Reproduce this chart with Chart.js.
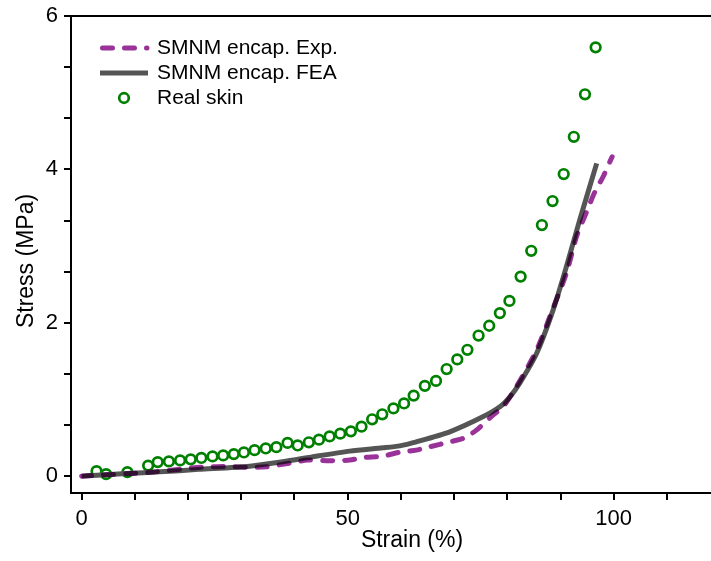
<!DOCTYPE html>
<html>
<head>
<meta charset="utf-8">
<script src="https://cdn.jsdelivr.net/npm/chart.js@4.4.1/dist/chart.umd.min.js"></script>
<style>
  html, body { margin: 0; padding: 0; background: #fff; overflow: hidden; }
  #wrap { width: 711px; height: 561px; overflow: hidden; }
  #chart { display: block; }
</style>
</head>
<body>
<!-- canvas is a few px wider than the window: the original frame runs off the right edge -->
<div id="wrap"><canvas id="chart" width="717" height="561"></canvas></div>
<script>
// data
const strainExp = [0, 12.8, 22.5, 28.4, 31.6, 34.7, 39.1, 42.5, 47.2, 50.4, 52.8, 56.6, 59.8, 62.9, 65.4, 69.2, 71.7, 74.2, 77.3, 79.2, 81.7, 85.5, 88.6, 91.1, 93.0, 94.9, 96.4, 98.0, 99.7];
const stressExp = [0, 0.05, 0.117, 0.124, 0.113, 0.121, 0.17, 0.209, 0.2, 0.209, 0.241, 0.26, 0.313, 0.339, 0.382, 0.447, 0.492, 0.6, 0.796, 0.904, 1.165, 1.643, 2.19, 2.644, 3.121, 3.447, 3.698, 3.904, 4.165];

const strainFea = [0, 2.1, 8.4, 14.7, 22, 31.6, 37.8, 44.1, 50.4, 56.6, 59.8, 62.9, 69.2, 75.4, 78.6, 80.5, 82.3, 85.5, 88.6, 91.1, 93.6, 96.8];
const stressFea = [0, 0.009, 0.035, 0.056, 0.088, 0.13, 0.187, 0.26, 0.326, 0.369, 0.395, 0.447, 0.578, 0.773, 0.904, 1.034, 1.209, 1.6, 2.165, 2.73, 3.339, 4.078];

const strainSkin = [2.8, 4.6, 8.6, 12.5, 14.3, 16.4, 18.5, 20.5, 22.5, 24.6, 26.6, 28.6, 30.5, 32.5, 34.6, 36.6, 38.7, 40.6, 42.7, 44.6, 46.6, 48.6, 50.6, 52.6, 54.6, 56.5, 58.6, 60.6, 62.4, 64.5, 66.6, 68.6, 70.6, 72.5, 74.6, 76.6, 78.6, 80.4, 82.5, 84.5, 86.5, 88.5, 90.6, 92.5, 94.6, 96.6];
const stressSkin = [0.065, 0.026, 0.052, 0.137, 0.183, 0.192, 0.205, 0.219, 0.237, 0.257, 0.27, 0.287, 0.309, 0.339, 0.361, 0.378, 0.433, 0.400, 0.441, 0.476, 0.518, 0.554, 0.584, 0.645, 0.741, 0.806, 0.883, 0.948, 1.05, 1.177, 1.242, 1.396, 1.522, 1.647, 1.833, 1.961, 2.126, 2.285, 2.602, 2.938, 3.274, 3.587, 3.939, 4.425, 4.979, 5.591];

const seriesNames = ['SMNM encap. Exp.', 'SMNM encap. FEA', 'Real skin'];

const xTicks = [0, 10, 20, 30, 40, 50, 60, 70, 80, 90, 100, 110];
const xLabels = [0, 50, 100];
const yTicks = [0, 0.667, 1.333, 2, 2.667, 3.333, 4, 4.667, 5.333, 6];
const yLabels = [0, 2, 4, 6];

const FONT = '"Liberation Sans", Arial, sans-serif';

function toPoints(xs, ys) {
  return xs.map((x, i) => ({ x: x, y: ys[i] }));
}

// multiply blend for the dashed curve so overlaps go dark like the original
const blendPlugin = {
  id: 'blendExp',
  beforeDatasetDraw(chart, args) {
    if (args.index === 0) {
      chart.ctx.save();
      chart.ctx.globalCompositeOperation = 'multiply';
    }
  },
  afterDatasetDraw(chart, args) {
    if (args.index === 0) chart.ctx.restore();
  }
};

// top frame line, axis titles (off-centre in the original) and legend inside the plot
const framePlugin = {
  id: 'frameLegend',
  afterDraw(chart) {
    const { ctx, chartArea } = chart;
    ctx.save();
    ctx.strokeStyle = '#000';
    ctx.lineWidth = 2;
    ctx.beginPath();
    ctx.moveTo(chartArea.left - 1, chartArea.top);
    ctx.lineTo(chart.width, chartArea.top);
    ctx.stroke();

    ctx.fillStyle = '#000';
    ctx.font = '23px ' + FONT;
    ctx.textAlign = 'center';
    ctx.textBaseline = 'middle';
    ctx.fillText('Strain (%)', 412, 541);

    ctx.save();
    ctx.translate(27, 261);
    ctx.rotate(-Math.PI / 2);
    ctx.fillText('Stress (MPa)', 0, 0);
    ctx.restore();

    ctx.textAlign = 'left';
    ctx.font = '21px ' + FONT;
    const rows = [48, 73, 98];
    chart.data.datasets.forEach((ds, i) => {
      const y = rows[i];
      ctx.save();
      if (ds.showLine) {
        ctx.strokeStyle = ds.borderColor;
        ctx.lineWidth = ds.borderWidth;
        ctx.lineCap = ds.borderCapStyle || 'butt';
        ctx.setLineDash(ds.borderDash || []);
        ctx.beginPath();
        ctx.moveTo(ds.borderDash ? 102.5 : 100, y);
        ctx.lineTo(ds.borderDash ? 147 : 148, y);
        ctx.stroke();
      } else {
        ctx.strokeStyle = ds.borderColor;
        ctx.lineWidth = ds.borderWidth;
        ctx.beginPath();
        ctx.arc(124, y, ds.pointRadius, 0, Math.PI * 2);
        ctx.stroke();
      }
      ctx.restore();
      ctx.fillText(ds.label, 157, y);
    });
    ctx.restore();
  }
};

const ctx = document.getElementById('chart').getContext('2d');
new Chart(ctx, {
  type: 'scatter',
  data: {
    datasets: [
      {
        label: seriesNames[0],
        data: toPoints(strainExp, stressExp),
        showLine: true,
        borderColor: '#993399',
        borderWidth: 5,
        borderDash: [10, 12],
        borderCapStyle: 'round',
        pointRadius: 0,
        tension: 0.25
      },
      {
        label: seriesNames[1],
        data: toPoints(strainFea, stressFea),
        showLine: true,
        borderColor: '#555555',
        borderWidth: 5,
        pointRadius: 0,
        tension: 0.25
      },
      {
        label: seriesNames[2],
        data: toPoints(strainSkin, stressSkin),
        showLine: false,
        borderColor: '#008000',
        backgroundColor: 'rgba(0,0,0,0)',
        borderWidth: 2.7,
        pointRadius: 4.8,
        pointHoverRadius: 4.8
      }
    ]
  },
  options: {
    responsive: false,
    animation: false,
    layout: { padding: { top: 16, right: 0, bottom: 0, left: 0 } },
    plugins: {
      legend: { display: false },
      tooltip: { enabled: false }
    },
    scales: {
      x: {
        type: 'linear',
        min: -2,
        max: 118,
        afterFit: (scale) => { scale.height = 68; scale.paddingRight = 0; },
        afterBuildTicks: (scale) => { scale.ticks = xTicks.map(v => ({ value: v })); },
        border: { display: true, color: '#000', width: 2 },
        grid: { drawOnChartArea: false, drawTicks: true, tickLength: 7, color: '#000', lineWidth: 2 },
        ticks: {
          autoSkip: false,
          maxRotation: 0,
          padding: 6,
          color: '#000',
          font: { family: FONT, size: 22 },
          callback: (v) => xLabels.includes(v) ? String(v) : ''
        },
        title: { display: false }
      },
      y: {
        type: 'linear',
        min: -0.22,
        max: 6,
        afterFit: (scale) => { scale.width = 71; scale.paddingTop = 0; scale.paddingBottom = 0; },
        afterBuildTicks: (scale) => { scale.ticks = yTicks.map(v => ({ value: v })); },
        border: { display: true, color: '#000', width: 2 },
        grid: { drawOnChartArea: false, drawTicks: true, tickLength: 7, color: '#000', lineWidth: 2 },
        ticks: {
          autoSkip: false,
          padding: 6,
          color: '#000',
          font: { family: FONT, size: 22 },
          callback: (v) => yLabels.includes(v) ? String(v) : ''
        },
        title: { display: false }
      }
    }
  },
  plugins: [blendPlugin, framePlugin]
});
</script>
</body>
</html>
